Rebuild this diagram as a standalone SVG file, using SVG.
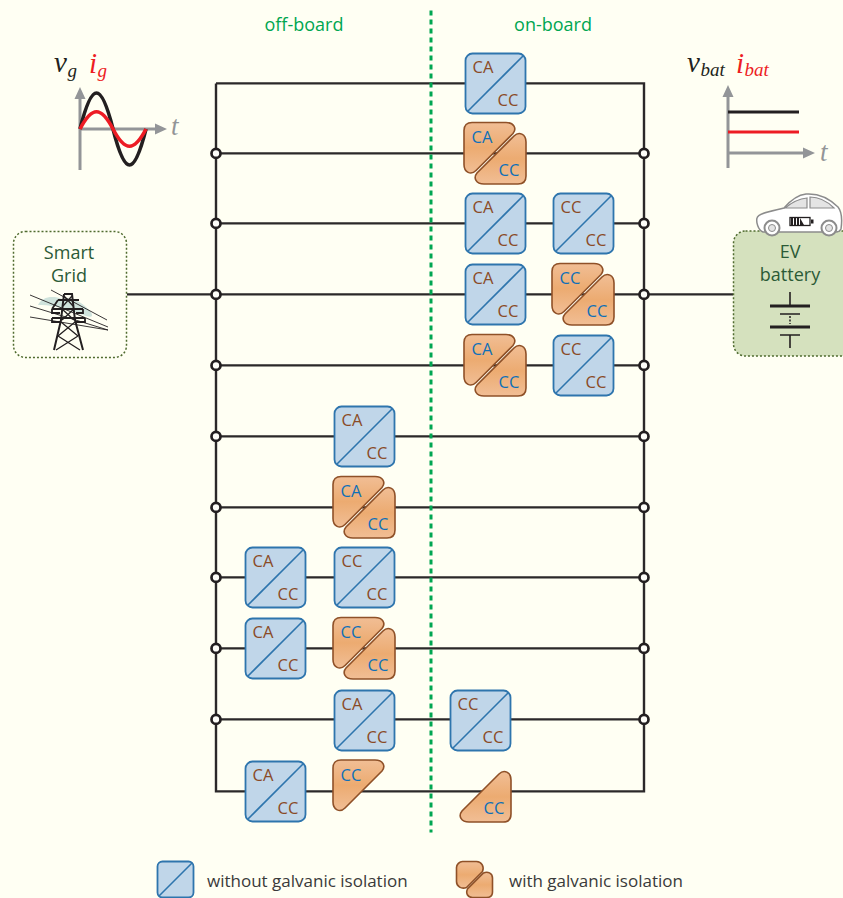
<svg xmlns="http://www.w3.org/2000/svg" width="843" height="898" viewBox="0 0 843 898">
<style>
text{font-family:"Open Sans","Noto Sans",sans-serif}
.w{fill:none;stroke:#2b2829;stroke-width:2.4}
.dot{fill:#fdfdf8;stroke:#231f20;stroke-width:2.7}
.bb{fill:#c0d6e9;stroke:#2e75ad;stroke-width:1.8}
.bd{fill:none;stroke:#2e75ad;stroke-width:1.6}
.op{fill:url(#og);stroke:#8f5128;stroke-width:1.6}
.lb{font-size:16.500px;fill:#8a4b26;text-anchor:middle}
.lo{font-size:16.500px;fill:#0f70b7;text-anchor:middle}
.gl{font-size:18px;fill:#00a651;text-anchor:middle}
.tg{font-size:18px;fill:#2b5a36;text-anchor:middle}
.lg{font-size:17px;fill:#3a3a3a}
.ax{fill:none;stroke:#939598;stroke-width:3}
.ah{fill:#939598}
.m{font-family:"Liberation Serif",serif;font-style:italic}
.k{fill:#231f20}.r{fill:#ed1c24}.t{fill:#939598}
</style>
<defs>
<linearGradient id="og" x1="0" y1="0" x2="0" y2="1"><stop offset="0" stop-color="#f1be95"/><stop offset=".5" stop-color="#ecab71"/><stop offset="1" stop-color="#f1be95"/></linearGradient>
<g id="blue"><rect class="bb" x="0.5" y="0.5" width="60" height="60" rx="7"/><path class="bd" d="M3,58L58,3"/></g>
<path id="ou" class="op" d="M8,0H42C50,0 53,6 49,11L12,48C7,53 0,50 0,42V8C0,3 3,0 8,0Z"/>
<path id="ol" class="op" d="M43,51H9C1,51 -2,45 2,40L39,3C44,-2 51,1 51,9V43C51,48 48,51 43,51Z"/>
</defs>
<rect width="843" height="898" fill="#fffff3"/>
<g id="connectors" transform="translate(0,.4)">
<path class="w" d="M216,83H644V791H216V83"/>
<path class="w" d="M216,153H644M216,223H644M127,294H733M216,365H644M216,436H644M216,507H644M216,577H644M216,648H644M216,719H644"/>
<path id="divider" d="M431,10V832" fill="none" stroke="#00a651" stroke-width="3" stroke-dasharray="5 4"/>
<g id="junctions">
<circle class="dot" cx="216" cy="153" r="4.500"/><circle class="dot" cx="644" cy="153" r="4.500"/>
<circle class="dot" cx="216" cy="223" r="4.500"/><circle class="dot" cx="644" cy="223" r="4.500"/>
<circle class="dot" cx="216" cy="294" r="4.500"/><circle class="dot" cx="644" cy="294" r="4.500"/>
<circle class="dot" cx="216" cy="365" r="4.500"/><circle class="dot" cx="644" cy="365" r="4.500"/>
<circle class="dot" cx="216" cy="436" r="4.500"/><circle class="dot" cx="644" cy="436" r="4.500"/>
<circle class="dot" cx="216" cy="507" r="4.500"/><circle class="dot" cx="644" cy="507" r="4.500"/>
<circle class="dot" cx="216" cy="577" r="4.500"/><circle class="dot" cx="644" cy="577" r="4.500"/>
<circle class="dot" cx="216" cy="648" r="4.500"/><circle class="dot" cx="644" cy="648" r="4.500"/>
<circle class="dot" cx="216" cy="719" r="4.500"/><circle class="dot" cx="644" cy="719" r="4.500"/>
</g>
</g>
<text class="gl" x="304" y="31">off-board</text>
<text class="gl" x="553" y="31">on-board</text>

<g id="n1" transform="translate(465,53)"><use href="#blue"/><text class="lb" x="18" y="20">CA</text><text class="lb" x="43" y="52.500">CC</text></g>
<g id="n2" transform="translate(464,122.500)"><use href="#ou"/><use href="#ol" x="11" y="10.500"/><text class="lo" x="18" y="20">CA</text><text class="lo" x="45" y="53">CC</text></g>
<g id="n3" transform="translate(465,193)"><use href="#blue"/><text class="lb" x="18" y="20">CA</text><text class="lb" x="43" y="52.500">CC</text></g>
<g id="n4" transform="translate(553,193)"><use href="#blue"/><text class="lb" x="18" y="20">CC</text><text class="lb" x="43" y="52.500">CC</text></g>
<g id="n5" transform="translate(465,264)"><use href="#blue"/><text class="lb" x="18" y="20">CA</text><text class="lb" x="43" y="52.500">CC</text></g>
<g id="n6" transform="translate(552,263.500)"><use href="#ou"/><use href="#ol" x="11" y="10.500"/><text class="lo" x="18" y="20">CC</text><text class="lo" x="45" y="53">CC</text></g>
<g id="n7" transform="translate(464,334.500)"><use href="#ou"/><use href="#ol" x="11" y="10.500"/><text class="lo" x="18" y="20">CA</text><text class="lo" x="45" y="53">CC</text></g>
<g id="n8" transform="translate(553,335)"><use href="#blue"/><text class="lb" x="18" y="20">CC</text><text class="lb" x="43" y="52.500">CC</text></g>
<g id="n9" transform="translate(334,406)"><use href="#blue"/><text class="lb" x="18" y="20">CA</text><text class="lb" x="43" y="52.500">CC</text></g>
<g id="n10" transform="translate(333,476.500)"><use href="#ou"/><use href="#ol" x="11" y="10.500"/><text class="lo" x="18" y="20">CA</text><text class="lo" x="45" y="53">CC</text></g>
<g id="n11" transform="translate(245,547)"><use href="#blue"/><text class="lb" x="18" y="20">CA</text><text class="lb" x="43" y="52.500">CC</text></g>
<g id="n12" transform="translate(334,547)"><use href="#blue"/><text class="lb" x="18" y="20">CC</text><text class="lb" x="43" y="52.500">CC</text></g>
<g id="n13" transform="translate(245,618)"><use href="#blue"/><text class="lb" x="18" y="20">CA</text><text class="lb" x="43" y="52.500">CC</text></g>
<g id="n14" transform="translate(333,617.500)"><use href="#ou"/><use href="#ol" x="11" y="10.500"/><text class="lo" x="18" y="20">CC</text><text class="lo" x="45" y="53">CC</text></g>
<g id="n15" transform="translate(334,690)"><use href="#blue"/><text class="lb" x="18" y="20">CA</text><text class="lb" x="43" y="52.500">CC</text></g>
<g id="n16" transform="translate(450,690)"><use href="#blue"/><text class="lb" x="18" y="20">CC</text><text class="lb" x="43" y="52.500">CC</text></g>
<g id="n17" transform="translate(245,761)"><use href="#blue"/><text class="lb" x="18" y="20">CA</text><text class="lb" x="43" y="52.500">CC</text></g>
<g id="n18" transform="translate(333,760)"><use href="#ou"/><text class="lo" x="18" y="21">CC</text></g>
<g id="n19" transform="translate(460,771)"><use href="#ol"/><text class="lo" x="34" y="43">CC</text></g>

<g id="smart-grid">
<rect x="13.500" y="231.500" width="113" height="126" rx="12" fill="#fffff3" stroke="#4f6b2f" stroke-width="1.500" stroke-dasharray="2 2"/>
<text class="tg" x="69" y="259">Smart</text><text class="tg" x="69" y="282">Grid</text>
<path d="M38,305C42,297 52,295 62,299C72,296 84,304 90,311C94,316 92,318 86,316C70,310 52,304 38,305Z" fill="#cfe3dc"/>
<path d="M51,290L107,320M30,295L108,327M30,306L108,330M30,317L108,330" fill="none" stroke="#231f20" stroke-width=".9"/>
<path d="M64,294H72L75,320L83,350M64,294L61,320L54,350" fill="none" stroke="#231f20" stroke-width="2"/>
<path d="M58,300H79M52,309H83M52,318H85M58,300L52,309M52,309V313L60,313M83,309V313L76,313M52,318V322L60,322M85,318V322L76,322" fill="none" stroke="#231f20" stroke-width="1.800"/>
<path d="M64,296L73,306M72,296L63,306M62,309L74,320M74,309L62,320M61,322L78,336M75,322L58,336M58,336L80,350M78,336L56,350" fill="none" stroke="#231f20" stroke-width="1.300"/>
</g>

<g id="ev-battery">
<rect x="733.500" y="231" width="125" height="125" rx="12" fill="#d5e1be" stroke="#4f6b2f" stroke-width="1.500" stroke-dasharray="2 2"/>
<text class="tg" x="790" y="258">EV</text><text class="tg" x="790" y="281">battery</text>
<path d="M790,292V306M790,335V348" stroke="#231f20" stroke-width="1.600"/>
<path d="M770,306H810M770,327H810" stroke="#231f20" stroke-width="3"/>
<path d="M780,314H800M780,335H800" stroke="#231f20" stroke-width="1.600"/>
<path d="M790,316V324" stroke="#231f20" stroke-width="1.500" stroke-dasharray="2 1.500"/>
</g>
<g id="car">
<path d="M763,232C758,230 756,222 757,218C758,213 772,211 784,208C790,201 797,195 806,194C820,193 830,199 838,207C842,212 842,222 841,229C840,231 838,232 836,232Z" fill="#fff" stroke="#8c8c8c" stroke-width="1.500"/>
<path d="M785,208C791,203 797,199 807,198V208ZM810,197C820,197 828,202 834,208H810Z" fill="#e4e4e4" stroke="#8c8c8c" stroke-width="1.200"/>
<circle cx="772" cy="228" r="7.500" fill="#fff" stroke="#8c8c8c" stroke-width="2"/><circle cx="772" cy="228" r="3.500" fill="#e4e4e4" stroke="#8c8c8c"/>
<circle cx="829" cy="228" r="7.500" fill="#fff" stroke="#8c8c8c" stroke-width="2"/><circle cx="829" cy="228" r="3.500" fill="#e4e4e4" stroke="#8c8c8c"/>
<rect x="790" y="217.500" width="20" height="8" fill="#fff" stroke="#231f20" stroke-width="1.300"/><rect x="811" y="219.500" width="2.500" height="4" fill="#231f20"/>
<path d="M791,218h2v7h-2zM794,218h2v7h-2zM797,218h2v7h-2zM800,218l4,7h-4z" fill="#231f20"/>
</g>

<g id="grid-waveform">
<path class="ax" d="M80,170V95M80,129H158"/>
<path class="ah" d="M80,87L85.500,99H74.500ZM167,129L155,123.500V134.500Z"/>
<path d="M80,129C92,81 101,81 113,129S134,177 146,129" fill="none" stroke="#231f20" stroke-width="3.600"/>
<path d="M80,129C92,106 101,106 113,129S134,152 146,129" fill="none" stroke="#ed1c24" stroke-width="3.600"/>
<text class="m k" x="54" y="72" font-size="29">v</text><text class="m k" x="67.500" y="77" font-size="19">g</text>
<text class="m r" x="89" y="73" font-size="29">i</text><text class="m r" x="97.500" y="77" font-size="19">g</text>
<text class="m t" x="171" y="135" font-size="27">t</text>
</g>
<g id="battery-waveform">
<path class="ax" d="M728,168V93M728,153H806"/>
<path class="ah" d="M728,85L733.500,97H722.500ZM815,153L803,147.500V158.500Z"/>
<path d="M728,112H799" stroke="#231f20" stroke-width="3"/>
<path d="M728,132H799" stroke="#ed1c24" stroke-width="3"/>
<text class="m k" x="687" y="72" font-size="29">v</text><text class="m k" x="700.500" y="76" font-size="19">bat</text>
<text class="m r" x="736" y="73" font-size="29">i</text><text class="m r" x="744.500" y="76" font-size="19">bat</text>
<text class="m t" x="820" y="161" font-size="27">t</text>
</g>

<g id="legend-blue"><rect class="bb" x="157.500" y="861.500" width="36" height="36" rx="5"/><path class="bd" d="M159,896L192,863"/></g>
<text class="lg" x="207" y="887">without galvanic isolation</text>
<g id="legend-orange">
<path class="op" transform="translate(456.500,861.500)" d="M6,0H20C25,0 28,5 26,10L10,26C5,28 0,25 0,20V6C0,3 3,0 6,0Z"/>
<path class="op" transform="translate(466.500,871)" d="M20,26.500H6C1,26.500 -1,22 1,18L17,2C21,0 26,2 26,7V21C26,24 24,26.500 20,26.500Z"/>
</g>
<text class="lg" x="509" y="887">with galvanic isolation</text>
</svg>
